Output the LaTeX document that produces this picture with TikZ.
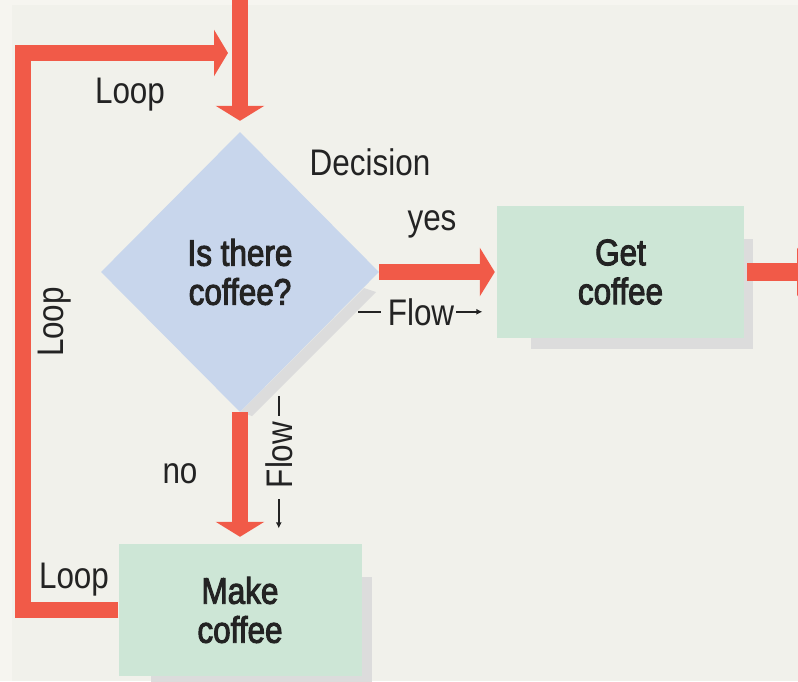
\documentclass[tikz,border=0pt]{standalone}
\usepackage{fontspec}
\setmainfont{Liberation Sans}[FakeStretch=0.85]
\newfontfamily\medfont{Liberation Sans}[FakeStretch=0.85, FakeBold=2.6]
\usetikzlibrary{arrows.meta,shapes.geometric}
\definecolor{bg}{HTML}{F1F1EB}
\definecolor{bgedge}{HTML}{F6F5F0}
\definecolor{flowred}{HTML}{F15A48}
\definecolor{diafill}{HTML}{C8D6EC}
\definecolor{boxfill}{HTML}{CDE6D6}
\definecolor{shadowgrey}{HTML}{DCDCDC}
\definecolor{txt}{HTML}{232323}
\tikzset{
  flowarrow/.style={draw=flowred, line width=16pt, line join=miter,
    -{Triangle[width=48pt,length=15pt]}},
  stepbox/.style={fill=boxfill, inner sep=0pt, align=center, text=txt,
    font=\medfont\fontsize{37}{39}\selectfont},
  decisionbox/.style={diamond, fill=diafill, inner sep=0pt, align=center, text=txt,
    minimum width=278pt, minimum height=280pt,
    font=\medfont\fontsize{37}{39}\selectfont},
  lbl/.style={inner sep=0pt, text=txt, font=\fontsize{37}{40}\selectfont},
  fline/.style={draw=txt, line width=1.6pt},
}
\begin{document}
\begin{tikzpicture}[x=1pt,y=-1pt]
\fill[bg] (0,0) rectangle (798,681);
\fill[bgedge] (0,0) rectangle (12,681);
\fill[bgedge] (0,0) rectangle (798,5);
\useasboundingbox (0,0) rectangle (798,681);
% shadows
\fill[shadowgrey] (531,239) rectangle (753,349);
\fill[shadowgrey] (151,577) rectangle (372,690);
\fill[shadowgrey] (364,288) -- (376,292) -- (252,416) -- (240,412) -- cycle;
% nodes
\node[decisionbox] (dia) at (240,272) {Is there\\coffee?};
\node[stepbox, minimum width=247pt, minimum height=132pt] (get) at (620.5,272) {Get\\coffee};
\node[stepbox, minimum width=243pt, minimum height=132pt] (make) at (240,610) {Make\\coffee};
\coordinate (topin) at (240,-2);
\coordinate (looptip) at (228,53);
\coordinate (outtip) at (812,272);
% connectors
\draw[flowarrow] (topin) -- ([yshift=11pt]dia.north);
\draw[flowarrow] (dia.east) -- ([xshift=-2pt]get.west);
\draw[flowarrow] (dia.south) -- ([yshift=7pt]make.north);
\draw[flowarrow, line width=18pt] ([xshift=3pt]get.east) -- (outtip);
\draw[flowarrow, -{Triangle[width=46pt,length=14pt]}] (make.west) -| (23,53) -- (looptip);
% labels
\node[lbl, anchor=base] (looptop) at (130,103) {Loop};
\node[lbl, anchor=base] (decision) at (370,175) {Decision};
\node[lbl, anchor=base] (yes) at (432,230) {yes};
\node[lbl, anchor=base] (no) at (180,483) {no};
\node[lbl, anchor=base] (loopbot) at (74,588) {Loop};
\node[lbl, anchor=base, rotate=90] (loopside) at (63,322) {Loop};
\node[lbl, anchor=base] (flowh) at (421,325) {Flow};
\draw[fline] ([xshift=-7pt]flowh.west) -- ++(-23,0);
\draw[fline, -{Latex[length=6pt,width=6pt]}] ([xshift=2pt]flowh.east) -- ++(26,0);
\node[lbl, anchor=base, rotate=90] (flowv) at (292,455) {Flow};
\draw[fline] ([yshift=6pt]flowv.east) -- ++(0,-20);
\draw[fline, -{Latex[length=6pt,width=6pt]}] ([yshift=-11pt]flowv.west) -- ++(0,29);
\end{tikzpicture}
\end{document}
